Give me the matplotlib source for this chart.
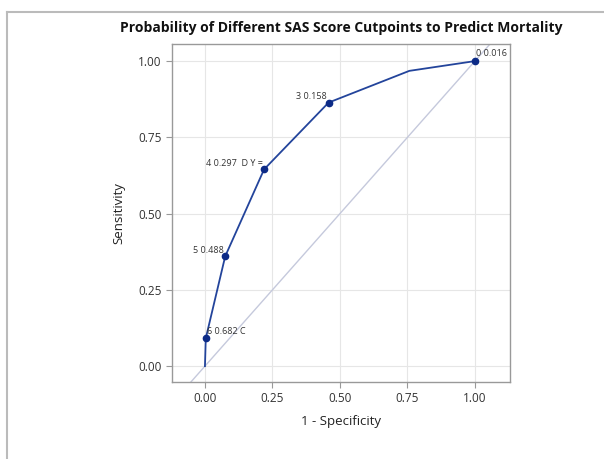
import matplotlib
matplotlib.use('Agg')
import matplotlib.pyplot as plt
from matplotlib.lines import Line2D

# ROC curve points (1 - specificity, sensitivity)
fpr = [0.0, 0.003, 0.075, 0.219, 0.458, 0.757, 1.0]
tpr = [0.0, 0.091, 0.360, 0.645, 0.864, 0.968, 1.0]
# labelled cutpoints
pt_x = [0.003, 0.075, 0.219, 0.458, 1.0]
pt_y = [0.091, 0.360, 0.645, 0.864, 1.0]
pt_lab = ['6 0.682 C', '5 0.488', '4 0.297  D Y =', '3 0.158', '0 0.016']
pt_side = ['right', 'left', 'left', 'left', 'right']
ticks = [0.0, 0.25, 0.5, 0.75, 1.0]

plt.rcParams['font.family'] = ['Open Sans', 'DejaVu Sans']

fig = plt.figure(figsize=(6.04, 4.59), dpi=100)
ax = fig.add_axes([0.2848, 0.1678, 0.5596, 0.7363])

ax.plot([-0.2, 1.2], [-0.2, 1.2], color='#c5c9dc', lw=1.0, zorder=1)
ax.plot(fpr, tpr, color='#23449b', lw=1.3, zorder=3)
ax.plot(pt_x, pt_y, 'o', color='#0c2a86', ms=4.5, zorder=4)

for x, y, s, side in zip(pt_x, pt_y, pt_lab, pt_side):
    if side == 'right':
        ax.annotate(s, (x, y), xytext=(1, 2), textcoords='offset points',
                    ha='left', va='bottom', fontsize=6.5, color='#333333')
    else:
        ax.annotate(s, (x, y), xytext=(-1, 1), textcoords='offset points',
                    ha='right', va='bottom', fontsize=6.5, color='#333333')

ax.set_xlim(-0.122, 1.13)
ax.set_ylim(-0.052, 1.056)
ax.set_xticks(ticks)
ax.set_yticks(ticks)
ax.set_xticklabels(['%.2f' % t for t in ticks])
ax.set_yticklabels(['%.2f' % t for t in ticks])
ax.grid(True, color='#e6e6e6', lw=0.8)
ax.set_axisbelow(True)
for sp in ax.spines.values():
    sp.set_color('#999999')
    sp.set_linewidth(1.0)
ax.tick_params(labelsize=8.5, colors='#333333', length=4, width=0.8, color='#999999')
ax.set_xlabel('1 - Specificity', fontsize=9.5, color='#222222', labelpad=7)
ax.set_ylabel('Sensitivity', fontsize=9.5, color='#222222', labelpad=9)
ax.set_title('Probability of Different SAS Score Cutpoints to Predict Mortality',
             fontsize=10, fontweight='bold', color='#111111', pad=9)

# outer frame lines of the screenshot
fig.add_artist(Line2D([7 / 604, 1.0], [1 - 12 / 459] * 2, color='#bbbbbb', lw=1.5))
fig.add_artist(Line2D([7 / 604] * 2, [0.0, 1 - 12 / 459], color='#bbbbbb', lw=1.5))

fig.savefig('out.png', dpi=100)
